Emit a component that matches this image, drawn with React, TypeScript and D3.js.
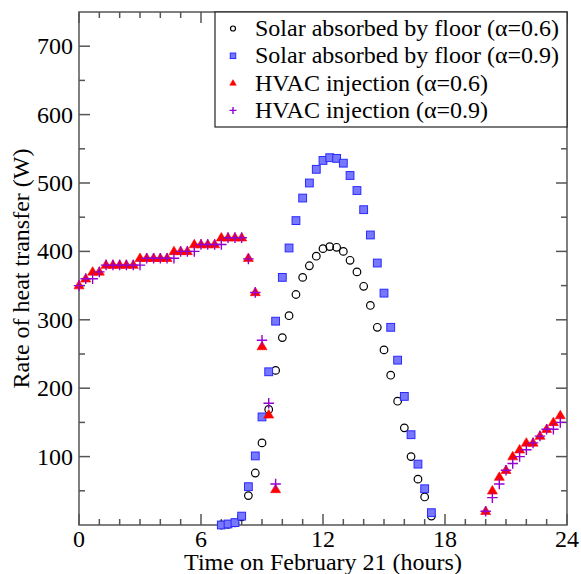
import * as d3 from "d3";

// hours of day for each sample (20-minute steps)
const hvacHours = [
  0, 0.33, 0.67, 1, 1.33, 1.67, 2, 2.33, 2.67, 3, 3.33, 3.67, 4, 4.33, 4.67,
  5, 5.33, 5.67, 6, 6.33, 6.67, 7, 7.33, 7.67, 8, 8.33, 8.67, 9, 9.33, 9.67,
  20, 20.33, 20.67, 21, 21.33, 21.67, 22, 22.33, 22.67, 23, 23.33, 23.67,
];
const hvac06 = [
  350, 360, 370, 370, 380, 380, 380, 380, 380, 390, 390, 390, 390, 390, 400,
  400, 400, 410, 410, 410, 410, 420, 420, 420, 420, 390, 340, 261, 161, 52,
  20, 50, 70, 80, 100, 110, 120, 120, 130, 140, 150, 160,
];
const hvac09 = [
  350, 360, 360, 370, 380, 380, 380, 380, 380, 380, 390, 390, 390, 390, 390,
  400, 400, 400, 410, 410, 410, 410, 420, 420, 420, 389, 340, 270, 178, 60,
  20, 40, 60, 80, 90, 100, 110, 120, 130, 140, 140, 150,
];

const solarHours = [
  7, 7.33, 7.67, 8, 8.33, 8.67, 9, 9.33, 9.67, 10, 10.33, 10.67, 11, 11.33,
  11.67, 12, 12.33, 12.67, 13, 13.33, 13.67, 14, 14.33, 14.67, 15, 15.33,
  15.67, 16, 16.33, 16.67, 17, 17.33,
];
const solar06 = [
  0, 1, 3, 12, 43, 76, 120, 169, 226, 274, 306, 337, 362, 379, 393, 404, 407,
  406, 400, 387, 370, 349, 321, 289, 256, 219, 181, 142, 100, 67, 41, 13,
];
const solar09 = [
  0, 1.5, 3.5, 13, 56, 101, 158, 224, 298, 362, 405, 445, 478, 500, 520, 533,
  537, 536, 529, 511, 489, 461, 424, 383, 339, 289, 241, 188, 132, 89, 53, 18,
];

const xMajor = [0, 6, 12, 18, 24];
const yMajor = [100, 200, 300, 400, 500, 600, 700];

const legendLabels = [
  "Solar absorbed by floor (α=0.6)",
  "Solar absorbed by floor (α=0.9)",
  "HVAC injection (α=0.6)",
  "HVAC injection (α=0.9)",
];

const W = 581;
const H = 574;
const plot = { left: 79, right: 567, top: 12, bottom: 525 };
const serif = { fontFamily: "Liberation Serif" };
const axisColor = "#555";
const purple = "#9400d3";

function Marker({ kind, x, y, s }: { kind: number; x: number; y: number; s: number }) {
  if (kind === 0)
    return <circle cx={x} cy={y} r={s * 0.5} fill="none" stroke="#000" strokeWidth={1.2} />;
  if (kind === 1)
    return (
      <rect x={x - s / 2} y={y - s / 2} width={s} height={s} fill="#7878ff" stroke="#2a2aff" strokeWidth={1} />
    );
  if (kind === 2) {
    const h = s * 0.85;
    return (
      <path
        d={`M${x},${y - h * 0.62}L${x + s / 2},${y + h * 0.38}L${x - s / 2},${y + h * 0.38}Z`}
        fill="#ff0000"
        stroke="#ff0000"
        strokeWidth={0.6}
      />
    );
  }
  return (
    <path
      d={`M${x - s / 2},${y}H${x + s / 2}M${x},${y - s / 2}V${y + s / 2}`}
      stroke={purple}
      strokeWidth={1.4}
      fill="none"
    />
  );
}

export default function App() {
  const x = d3.scaleLinear().domain([0, 24]).range([plot.left, plot.right]);
  const y = d3.scaleLinear().domain([0, 750]).range([plot.bottom, plot.top]);

  const xMinor = d3.range(0, 25, 1).filter((v) => !xMajor.includes(v));
  const yMinor = d3.range(50, 750, 50).filter((v) => !yMajor.includes(v));

  const series = [
    { kind: 0, hours: solarHours, values: solar06 },
    { kind: 1, hours: solarHours, values: solar09 },
    { kind: 2, hours: hvacHours, values: hvac06 },
    { kind: 3, hours: hvacHours, values: hvac09 },
  ];
  const markerSize = [7.6, 7.8, 10, 10.5];
  const legendSize = [5, 5.5, 6.5, 7];

  const tickLines: JSX.Element[] = [];
  const addX = (v: number, len: number) => {
    tickLines.push(<line key={`xb${v}`} x1={x(v)} x2={x(v)} y1={plot.bottom} y2={plot.bottom - len} />);
    tickLines.push(<line key={`xt${v}`} x1={x(v)} x2={x(v)} y1={plot.top} y2={plot.top + len} />);
  };
  const addY = (v: number, len: number) => {
    tickLines.push(<line key={`yl${v}`} x1={plot.left} x2={plot.left + len} y1={y(v)} y2={y(v)} />);
    tickLines.push(<line key={`yr${v}`} x1={plot.right} x2={plot.right - len} y1={y(v)} y2={y(v)} />);
  };
  xMajor.forEach((v) => addX(v, 11));
  xMinor.forEach((v) => addX(v, 6));
  yMajor.forEach((v) => addY(v, 11));
  yMinor.forEach((v) => addY(v, 6));

  const midX = (plot.left + plot.right) / 2;
  const midY = (plot.top + plot.bottom) / 2;

  return (
    <svg width={W} height={H} style={{ position: "absolute", left: 0, top: 0, background: "#fff" }}>
      <rect width={W} height={H} fill="#fff" />
      <g stroke={axisColor} strokeWidth={1.5}>
        {tickLines}
        <rect
          x={plot.left}
          y={plot.top}
          width={plot.right - plot.left}
          height={plot.bottom - plot.top}
          fill="none"
        />
      </g>

      {xMajor.map((v) => (
        <text key={v} x={x(v)} y={547} fontSize={24} textAnchor="middle" fill="#000" style={serif}>
          {v}
        </text>
      ))}
      {yMajor.map((v) => (
        <text key={v} x={73} y={y(v) + 8} fontSize={24} textAnchor="end" fill="#000" style={serif}>
          {v}
        </text>
      ))}

      <text x={midX} y={570} fontSize={24} textAnchor="middle" fill="#000" style={serif}>
        Time on February 21 (hours)
      </text>
      <text
        transform={`translate(29,${midY}) rotate(-90)`}
        fontSize={24}
        textAnchor="middle"
        fill="#000"
        style={serif}
      >
        Rate of heat transfer (W)
      </text>

      {series.map((s) => (
        <g key={s.kind}>
          {s.values.map((v, i) => (
            <Marker key={i} kind={s.kind} x={x(s.hours[i])} y={y(v)} s={markerSize[s.kind]} />
          ))}
        </g>
      ))}

      <rect x={215} y={plot.top} width={plot.right - 215} height={115} fill="#fff" stroke="#222" strokeWidth={1.2} />
      {legendLabels.map((label, i) => {
        const cy = 28.5 + i * 27.3;
        return (
          <g key={label}>
            <Marker kind={i} x={233} y={cy} s={legendSize[i]} />
            <text x={255} y={cy + 7.5} fontSize={24} fill="#000" style={serif}>
              {label}
            </text>
          </g>
        );
      })}
    </svg>
  );
}
